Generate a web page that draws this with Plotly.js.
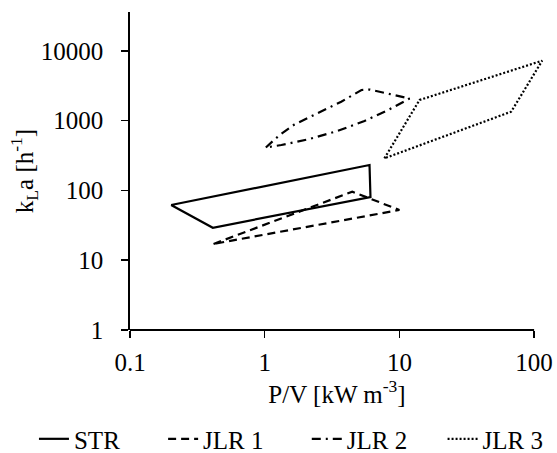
<!DOCTYPE html>
<html>
<head>
<meta charset="utf-8">
<script src="https://cdn.plot.ly/plotly-3.0.1.min.js"></script>
<style>
html,body{margin:0;padding:0;background:#fff;}
#chart{width:557px;height:453px;}
</style>
</head>
<body>
<div id="chart"></div>
<script>
// Data (closed outlines on log-log axes)
const strX  = [0.202, 6.0, 6.1, 0.412, 0.202];
const strY  = [61.8, 231, 80.4, 29.2, 61.8];

const jlr1X = [0.417, 4.47, 10.0, 0.417];
const jlr1Y = [17.1, 95.8, 52.4, 17.1];

const jlr2X = [1.02, 1.29, 1.66, 3.70, 5.23, 6.0, 11.9, 8.45, 5.51, 3.47, 2.15, 1.33, 1.02];
const jlr2Y = [412, 622, 879, 1866, 2744, 2790, 2073, 1452, 987, 710, 545, 447, 412];

const jlr3X = [7.74, 14.1, 114.8, 67.6, 7.74];
const jlr3Y = [288, 1973, 7213, 1342, 288];

const seriesNames = ["STR", "JLR 1", "JLR 2", "JLR 3"];

const xTickVals = [0.1, 1, 10, 100];
const xTickText = ["0.1", "1", "10", "100"];
const yTickVals = [1, 10, 100, 1000, 10000];
const yTickText = ["1", "10", "100", "1000", "10000"];

const FONT = "'Liberation Serif', 'Times New Roman', serif";
const FS = 25;
const txt = {family: FONT, size: FS, color: "#000"};

const traces = [
  {x: strX,  y: strY,  name: seriesNames[0], legend: "legend",  mode: "lines", line: {color: "#000", width: 2.2, dash: "solid"}},
  {x: jlr1X, y: jlr1Y, name: seriesNames[1], legend: "legend2", mode: "lines", line: {color: "#000", width: 2.2, dash: "8px,5px"}},
  {x: jlr2X, y: jlr2Y, name: seriesNames[2], legend: "legend3", mode: "lines", line: {color: "#000", width: 2.2, dash: "9px,5px,2px,5px"}},
  {x: jlr3X, y: jlr3Y, name: seriesNames[3], legend: "legend4", mode: "lines", line: {color: "#000", width: 2.2, dash: "2px,2px"}}
];

function leg(x) {
  return {orientation: "h", x: x, xanchor: "left", y: -0.343, yanchor: "middle",
          font: txt, bgcolor: "rgba(0,0,0,0)", borderwidth: 0};
}

const layout = {
  width: 557, height: 453,
  margin: {l: 130, r: 13, t: 12, b: 123, pad: 0, autoexpand: false},
  paper_bgcolor: "#fff", plot_bgcolor: "#fff",
  font: txt,
  showlegend: true,
  legend: leg(-0.232),
  legend2: leg(0.080),
  legend3: leg(0.427),
  legend4: leg(0.755),
  xaxis: {
    type: "log", range: [-1, 2.0735], automargin: true,
    tickmode: "array", tickvals: xTickVals, ticktext: xTickText,
    ticks: "outside", ticklen: 7, tickwidth: 1.5, tickcolor: "#000",
    ticklabelstandoff: 3,
    showline: false, showgrid: false, zeroline: false,
    tickfont: txt,
    title: {text: "P/V [kW m<sup>-3</sup>]", font: txt, standoff: 4}
  },
  yaxis: {
    type: "log", range: [0, 4.556], automargin: true,
    tickmode: "array", tickvals: yTickVals, ticktext: yTickText,
    ticks: "outside", ticklen: 7, tickwidth: 1.5, tickcolor: "#000",
    ticklabelstandoff: 13,
    showline: true, linecolor: "#000", linewidth: 1.8,
    showgrid: false, zeroline: false,
    tickfont: txt,
    title: {text: "k<sub>L</sub>a [h<sup>-1</sup>]", font: txt, standoff: 0}
  },
  shapes: [
    {type: "line", xref: "x", yref: "paper", x0: 0.1, x1: 100, y0: 0, y1: 0,
     line: {color: "#000", width: 1.8}}
  ]
};

Plotly.newPlot("chart", traces, layout, {staticPlot: true, displayModeBar: false});
</script>
</body>
</html>
